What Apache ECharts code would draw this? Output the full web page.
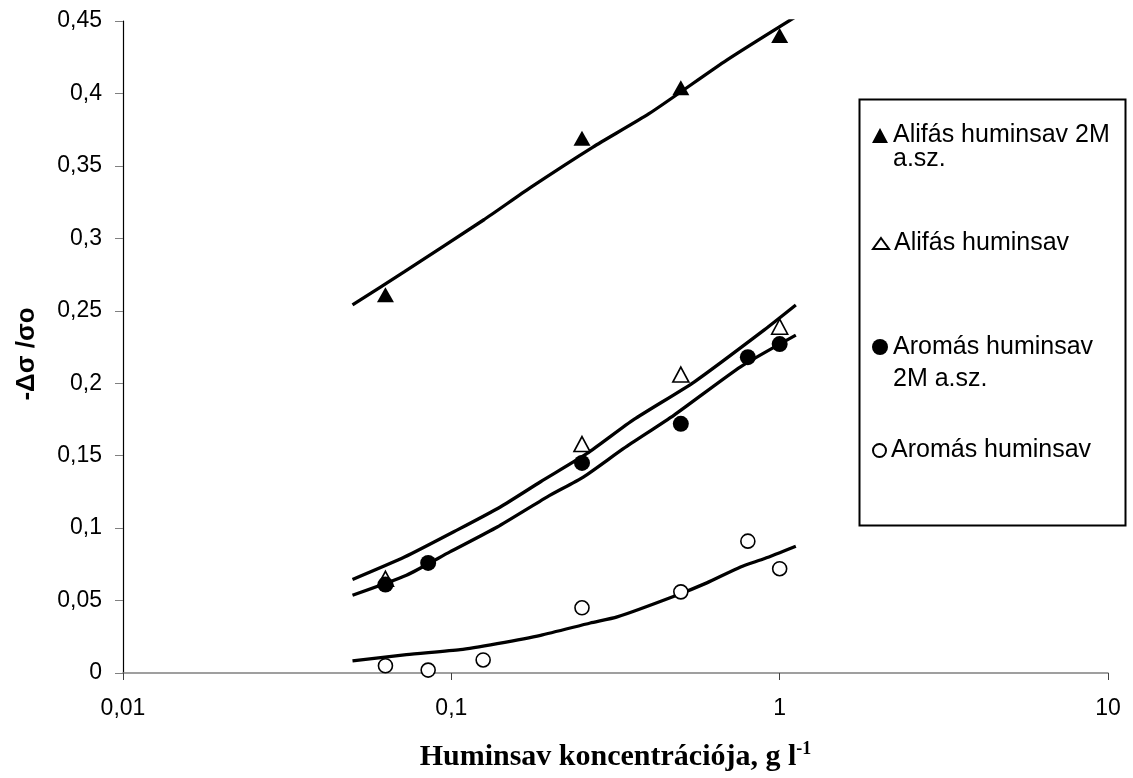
<!DOCTYPE html>
<html><head><meta charset="utf-8">
<script src="https://cdn.jsdelivr.net/npm/echarts@6/dist/echarts.min.js"></script>
<style>html,body{margin:0;padding:0;background:#fff}#c{width:1133px;height:778px}</style>
</head><body><div id="c"></div>
<script>
// ---- data ----
const seriesNames = ['Alifás huminsav 2M a.sz.', 'Alifás huminsav', 'Aromás huminsav 2M a.sz.', 'Aromás huminsav'];
const legendLabels = [' \nAlifás huminsav 2M\na.sz.', 'Alifás huminsav', ' \nAromás huminsav\n2M a.sz.', 'Aromás huminsav'];

const xAliSalt = [0.063, 0.25, 0.5, 1.0];
const yAliSalt = [0.261, 0.369, 0.404, 0.440];
const xAli = [0.063, 0.25, 0.5, 1.0];
const yAli = [0.065, 0.158, 0.206, 0.239];
const xAroSalt = [0.063, 0.085, 0.25, 0.5, 0.8, 1.0];
const yAroSalt = [0.061, 0.076, 0.145, 0.172, 0.218, 0.227];
const xAro = [0.063, 0.085, 0.125, 0.25, 0.5, 0.8, 1.0];
const yAro = [0.005, 0.002, 0.009, 0.045, 0.056, 0.091, 0.072];

// fitted curves
const fitXAliSalt = [0.05, 0.072, 0.126, 0.174, 0.27, 0.40, 0.69, 1.12];
const fitYAliSalt = [0.254, 0.277, 0.313, 0.335, 0.363, 0.386, 0.423, 0.453];
const fitXAli = [0.05, 0.072, 0.104, 0.141, 0.187, 0.259, 0.36, 0.55, 0.90, 1.12];
const fitYAli = [0.0645, 0.080, 0.0986, 0.1146, 0.132, 0.1515, 0.175, 0.201, 0.237, 0.254];
const fitXAroSalt = [0.05, 0.073, 0.099, 0.138, 0.196, 0.253, 0.335, 0.477, 0.76, 1.12];
const fitYAroSalt = [0.0537, 0.0675, 0.0836, 0.1008, 0.1216, 0.1354, 0.155, 0.178, 0.2113, 0.2332];
const fitXAro = [0.05, 0.073, 0.1065, 0.138, 0.187, 0.265, 0.32, 0.477, 0.60, 0.76, 0.90, 1.12];
const fitYAro = [0.0083, 0.0127, 0.0161, 0.0203, 0.026, 0.0345, 0.0387, 0.053, 0.0622, 0.0732, 0.079, 0.0875];

const yTitle = '-Δσ /σo';
const xTitleMain = 'Huminsav koncentrációja, g l';
const xTitleSup = '-1';

// ---- chart ----
const zip = (xs, ys) => xs.map((x, i) => [x, ys[i]]);
const comma = v => String(v).replace('.', ',');
const FONT = "'Liberation Sans', Arial, sans-serif";
const SERIF = "'Liberation Serif', 'Times New Roman', serif";

const fitLine = (name, xs, ys) => ({
  name, type: 'line', data: zip(xs, ys), showSymbol: false, symbol: 'none', smooth: 0.2,
  lineStyle: { color: '#000', width: 3.3 }, silent: true, z: 2, animation: false
});
const pts = (name, xs, ys, symbol, size, filled) => ({
  name, type: 'scatter', data: zip(xs, ys), symbol, symbolSize: size, z: 5,
  itemStyle: { color: filled ? '#000' : '#fff', borderColor: '#000', borderWidth: filled ? 0 : 1.6, opacity: 1 }
});

const legendBase = (i, top, lh, iw, ih) => ({
  data: [seriesNames[i]], orient: 'vertical', left: 872, top, padding: 0,
  itemWidth: iw, itemHeight: ih, itemGap: 0, selectedMode: false,
  formatter: () => legendLabels[i],
  textStyle: { fontFamily: FONT, fontSize: 25, color: '#000', lineHeight: lh }
});

const chart = echarts.init(document.getElementById('c'));
chart.setOption({
  animation: false,
  backgroundColor: '#fff',
  grid: { left: 123, right: 25, top: 21, bottom: 105, containLabel: false },
  xAxis: {
    type: 'log', logBase: 10, min: 0.01, max: 10,
    axisLine: { show: true, lineStyle: { color: '#808080', width: 1.5 } },
    axisTick: { show: true, length: 7, lineStyle: { color: '#404040', width: 1 } },
    minorTick: { show: false }, splitLine: { show: false },
    axisLabel: { fontFamily: FONT, fontSize: 23, color: '#000', margin: 24,
      formatter: v => comma(Number(Number(v).toPrecision(6))) },
    name: '{a|' + xTitleMain + '}{s|' + xTitleSup + '}',
    nameLocation: 'middle', nameGap: 67,
    nameTextStyle: { rich: {
      a: { fontFamily: SERIF, fontWeight: 'bold', fontSize: 30, color: '#000', lineHeight: 35 },
      s: { fontFamily: SERIF, fontWeight: 'bold', fontSize: 18, color: '#000', verticalAlign: 'top', lineHeight: 18 }
    } }
  },
  yAxis: {
    type: 'value', min: 0, max: 0.45, interval: 0.05,
    axisLine: { show: true, lineStyle: { color: '#000', width: 1.2 } },
    axisTick: { show: true, length: 8, lineStyle: { color: '#808080', width: 1 } },
    splitLine: { show: false },
    axisLabel: { fontFamily: FONT, fontSize: 23, color: '#000', margin: 21,
      formatter: v => comma(Number(Number(v).toFixed(2))) },
    name: yTitle, nameLocation: 'middle', nameRotate: 90, nameGap: 83,
    nameTextStyle: { fontFamily: FONT, fontWeight: 'bold', fontSize: 26, color: '#000', padding: [0, 14, 0, 0] }
  },
  legend: [
    legendBase(0, 99, 24, 16, 15),
    legendBase(1, 231, 25, 16, 11),
    legendBase(2, 299, 32, 16, 16),
    legendBase(3, 438, 25, 13, 13)
  ],
  graphic: [{
    type: 'rect', left: 857, top: 97, z: 0,
    shape: { width: 266, height: 426 },
    style: { fill: 'none', stroke: '#000', lineWidth: 2 }
  }],
  series: [
    fitLine('fit1', fitXAliSalt, fitYAliSalt),
    fitLine('fit2', fitXAli, fitYAli),
    fitLine('fit3', fitXAroSalt, fitYAroSalt),
    fitLine('fit4', fitXAro, fitYAro),
    pts(seriesNames[0], xAliSalt, yAliSalt, 'triangle', [17, 15], true),
    pts(seriesNames[1], xAli, yAli, 'triangle', [16, 15], false),
    pts(seriesNames[2], xAroSalt, yAroSalt, 'circle', 16, true),
    pts(seriesNames[3], xAro, yAro, 'circle', 14, false)
  ]
});
</script></body></html>
